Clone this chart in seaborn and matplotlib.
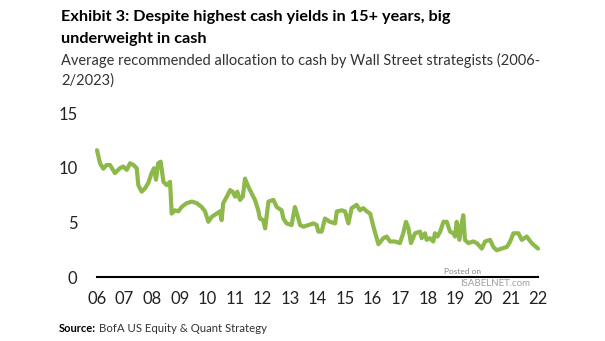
import matplotlib
matplotlib.use("Agg")
import matplotlib.pyplot as plt
import seaborn as sns
import pandas as pd

# Decimal year of each reading and the recommended cash allocation (%)
dates = [2006.00, 2006.11, 2006.23, 2006.35, 2006.47, 2006.65, 2006.83, 2006.95,
         2007.08, 2007.20, 2007.32, 2007.44, 2007.50, 2007.62, 2007.74, 2007.86,
         2007.98, 2008.07, 2008.14, 2008.22, 2008.31, 2008.41, 2008.53, 2008.65,
         2008.71, 2008.83, 2008.95, 2009.07, 2009.25, 2009.44, 2009.62, 2009.80,
         2009.92, 2010.04, 2010.16, 2010.34, 2010.46, 2010.52, 2010.58, 2010.71,
         2010.83, 2010.92, 2011.01, 2011.09, 2011.19, 2011.29, 2011.37, 2011.49,
         2011.61, 2011.73, 2011.85, 2011.91, 2012.03, 2012.10, 2012.22, 2012.40,
         2012.52, 2012.70, 2012.76, 2012.88, 2013.06, 2013.18, 2013.27, 2013.37,
         2013.49, 2013.67, 2013.85, 2013.97, 2014.03, 2014.15, 2014.27, 2014.45,
         2014.64, 2014.70, 2014.88, 2015.00, 2015.12, 2015.24, 2015.42, 2015.54,
         2015.66, 2015.79, 2015.91, 2016.03, 2016.21, 2016.39, 2016.51, 2016.63,
         2016.81, 2016.99, 2017.11, 2017.21, 2017.30, 2017.39, 2017.54, 2017.72,
         2017.78, 2017.90, 2017.96, 2018.08, 2018.20, 2018.26, 2018.35, 2018.45,
         2018.57, 2018.69, 2018.81, 2018.93, 2018.99, 2019.05, 2019.15, 2019.23,
         2019.29, 2019.35, 2019.47, 2019.65, 2019.78, 2019.96, 2020.08, 2020.26,
         2020.38, 2020.50, 2020.68, 2020.87, 2020.99, 2021.11, 2021.29, 2021.41,
         2021.59, 2021.77, 2022.00]
cash = [11.6, 10.4, 9.9, 10.25, 10.25, 9.5, 9.95, 10.1,
        9.8, 10.4, 10.25, 9.95, 8.4, 7.8, 8.1, 8.6,
        9.5, 9.95, 8.9, 10.4, 10.55, 8.7, 8.4, 8.7,
        5.8, 6.1, 6.0, 6.4, 6.75, 6.9, 6.75, 6.4,
        6.0, 5.05, 5.5, 5.8, 6.0, 5.2, 6.75, 7.35,
        7.95, 7.8, 7.35, 7.8, 7.05, 7.35, 9.0, 8.25,
        7.65, 7.05, 6.1, 5.35, 5.2, 4.45, 6.9, 7.05,
        6.4, 6.1, 5.35, 4.9, 4.75, 6.4, 5.65, 4.75,
        4.6, 4.75, 4.9, 4.75, 4.15, 4.15, 5.35, 5.05,
        4.9, 6.0, 6.1, 6.0, 4.9, 6.3, 6.6, 6.1,
        6.3, 6.0, 5.8, 4.6, 3.0, 3.55, 3.7, 3.25,
        3.25, 3.1, 4.0, 5.05, 4.45, 3.1, 4.0, 4.15,
        3.55, 4.0, 3.4, 3.55, 3.25, 4.0, 3.7, 4.15,
        5.05, 5.05, 4.15, 4.0, 3.7, 5.05, 3.4, 4.9,
        5.65, 3.4, 3.1, 3.25, 3.1, 2.6, 3.25, 3.4,
        2.75, 2.45, 2.6, 2.75, 3.25, 4.0, 4.0, 3.4,
        3.7, 3.1, 2.6]

year_ticks = list(range(2006, 2023))
year_labels = [f"{y % 100:02d}" for y in year_ticks]
y_ticks = [0, 5, 10, 15]

title_lines = ["Exhibit 3: Despite highest cash yields in 15+ years, big",
               "underweight in cash"]
subtitle_lines = ["Average recommended allocation to cash by Wall Street strategists (2006-",
                  "2/2023)"]

sns.set_style("white")
plt.rcParams["font.family"] = ["Lato", "DejaVu Sans"]

df = pd.DataFrame({"date": dates, "cash": cash})

fig = plt.figure(figsize=(6.05, 3.41), dpi=100)
ax = fig.add_axes([97 / 605, 1 - 277 / 341, (538 - 97) / 605, (277 - 113) / 341])

sns.lineplot(data=df, x="date", y="cash", ax=ax, color="#8DB84A", linewidth=3.0,
             solid_capstyle="round", solid_joinstyle="round", clip_on=False)

ax.set_xlim(2006, 2022)
ax.set_ylim(0, 15)
ax.set_xticks(year_ticks)
ax.set_xticklabels(year_labels)
ax.set_yticks(y_ticks)
ax.set_xlabel("")
ax.set_ylabel("")
ax.tick_params(axis="both", length=0, labelsize=12, colors="#222222")
ax.tick_params(axis="x", pad=10)
ax.tick_params(axis="y", pad=14)
for s in ["top", "right", "left"]:
    ax.spines[s].set_visible(False)
ax.spines["bottom"].set_color("black")
ax.spines["bottom"].set_linewidth(1.5)
ax.grid(False)

for line, base in zip(title_lines, [21, 43]):
    fig.text(61 / 605, 1 - base / 341, line, fontsize=11.7, fontweight="bold",
             color="black", va="baseline", ha="left")
for line, base in zip(subtitle_lines, [65, 85]):
    fig.text(61 / 605, 1 - base / 341, line, fontsize=10.5, color="#333333",
             va="baseline", ha="left")

fig.text(59 / 605, 1 - 328 / 341, "Source:", fontsize=8, fontweight="bold",
         color="black", va="center", ha="left")
fig.text(99 / 605, 1 - 328 / 341, "BofA US Equity & Quant Strategy", fontsize=8.2,
         color="#333333", va="center", ha="left")

fig.text(463 / 605, 1 - 272 / 341, "Posted on", fontsize=6, color="#888888",
         va="center", ha="center")
fig.text(495 / 605, 1 - 284 / 341, "ISABELNET.com", fontsize=7, color="#9aa0a8",
         va="center", ha="center")

fig.savefig("out.png", dpi=100)
